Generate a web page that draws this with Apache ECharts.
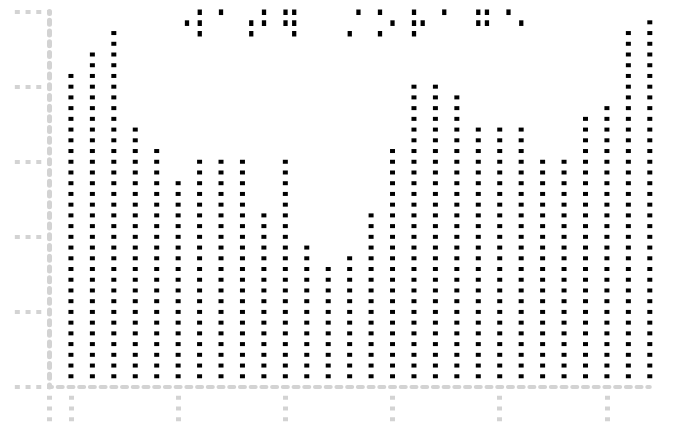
<!DOCTYPE html>
<html>
<head>
<meta charset="utf-8">
<script src="https://cdn.jsdelivr.net/npm/echarts@6/dist/echarts.min.js"></script>
<style>
html,body{margin:0;padding:0;background:#ffffff;}
#chart{width:678px;height:429px;}
</style>
</head>
<body>
<div id="chart"></div>
<script>
// Title (dot-matrix text, written in Unicode braille patterns)
const titleText = '\u2820\u2846\u2802\u28A0\u2806\u28B6\u2800\u2800\u2850\u2890\u2804\u2866\u2810\u2800\u2836\u2810\u2804';

// Categories (first slot is the empty start of the axis)
const categories = ['', '1', '2', '3', '4', '5', '6', '7', '8', '9', '10', '11', '12', '13', '14',
  '15', '16', '17', '18', '19', '20', '21', '22', '23', '24', '25', '26', '27', '28'];

// Bar values (in dot units)
const values = ['-', 29, 31, 33, 24, 22, 19, 21, 21, 21, 16, 21, 13, 11, 12, 16,
  22, 28, 28, 27, 24, 24, 24, 21, 21, 25, 26, 33, 34];

// Y axis ticks
const yTicks = [0, 7, 14, 21, 28, 35];

// X axis tick positions (category indices)
const xTickIndices = [0, 1, 6, 11, 16, 21, 26];

const GRAY = '#d3d3d3';
const ROW = 375.4 / (yTicks[yTicks.length - 1] - yTicks[0]);
const COL = 600.3 / 56;

const chart = echarts.init(document.getElementById('chart'), null, {renderer: 'canvas'});
chart.setOption({
  animation: false,
  backgroundColor: '#ffffff',
  graphic: [{
    type: 'text',
    x: 172,
    y: -0.9,
    scaleX: 0.7573,
    scaleY: 1,
    silent: true,
    style: {
      text: titleText,
      fontFamily: 'DejaVu Sans',
      fontSize: 38.65,
      fill: '#000000',
      align: 'left',
      verticalAlign: 'top'
    }
  }],
  grid: {
    left: 49.5,
    right: 28.2,
    top: 11.6,
    bottom: 42,
    containLabel: false,
    outerBoundsMode: 'none'
  },
  xAxis: {
    type: 'category',
    data: categories,
    boundaryGap: false,
    axisLine: {
      show: true,
      lineStyle: {color: GRAY, width: 4, type: [5, COL - 5], dashOffset: 2.5}
    },
    axisTick: {
      show: true,
      length: 34.5,
      interval: function (index) { return xTickIndices.indexOf(index) >= 0; },
      lineStyle: {color: GRAY, width: 5, type: [4, ROW - 4], dashOffset: 2}
    },
    axisLabel: {show: false},
    splitLine: {show: false}
  },
  yAxis: {
    type: 'value',
    min: yTicks[0],
    max: yTicks[yTicks.length - 1],
    interval: yTicks[1] - yTicks[0],
    axisLine: {
      show: true,
      lineStyle: {color: GRAY, width: 5, type: [4, ROW - 4], dashOffset: 2}
    },
    axisTick: {
      show: true,
      length: 35,
      lineStyle: {color: GRAY, width: 4, type: [5, COL - 5], dashOffset: 2.5}
    },
    axisLabel: {show: false},
    splitLine: {show: false}
  },
  series: [{
    type: 'pictorialBar',
    data: values,
    symbol: 'rect',
    symbolSize: [5, 4],
    symbolRepeat: true,
    symbolMargin: ((ROW - 4) / 2) + '!',
    symbolBoundingData: yTicks[yTicks.length - 1],
    symbolOffset: [0, -ROW / 2],
    barWidth: 5,
    itemStyle: {color: '#000000'},
    silent: true
  }]
});
</script>
</body>
</html>
